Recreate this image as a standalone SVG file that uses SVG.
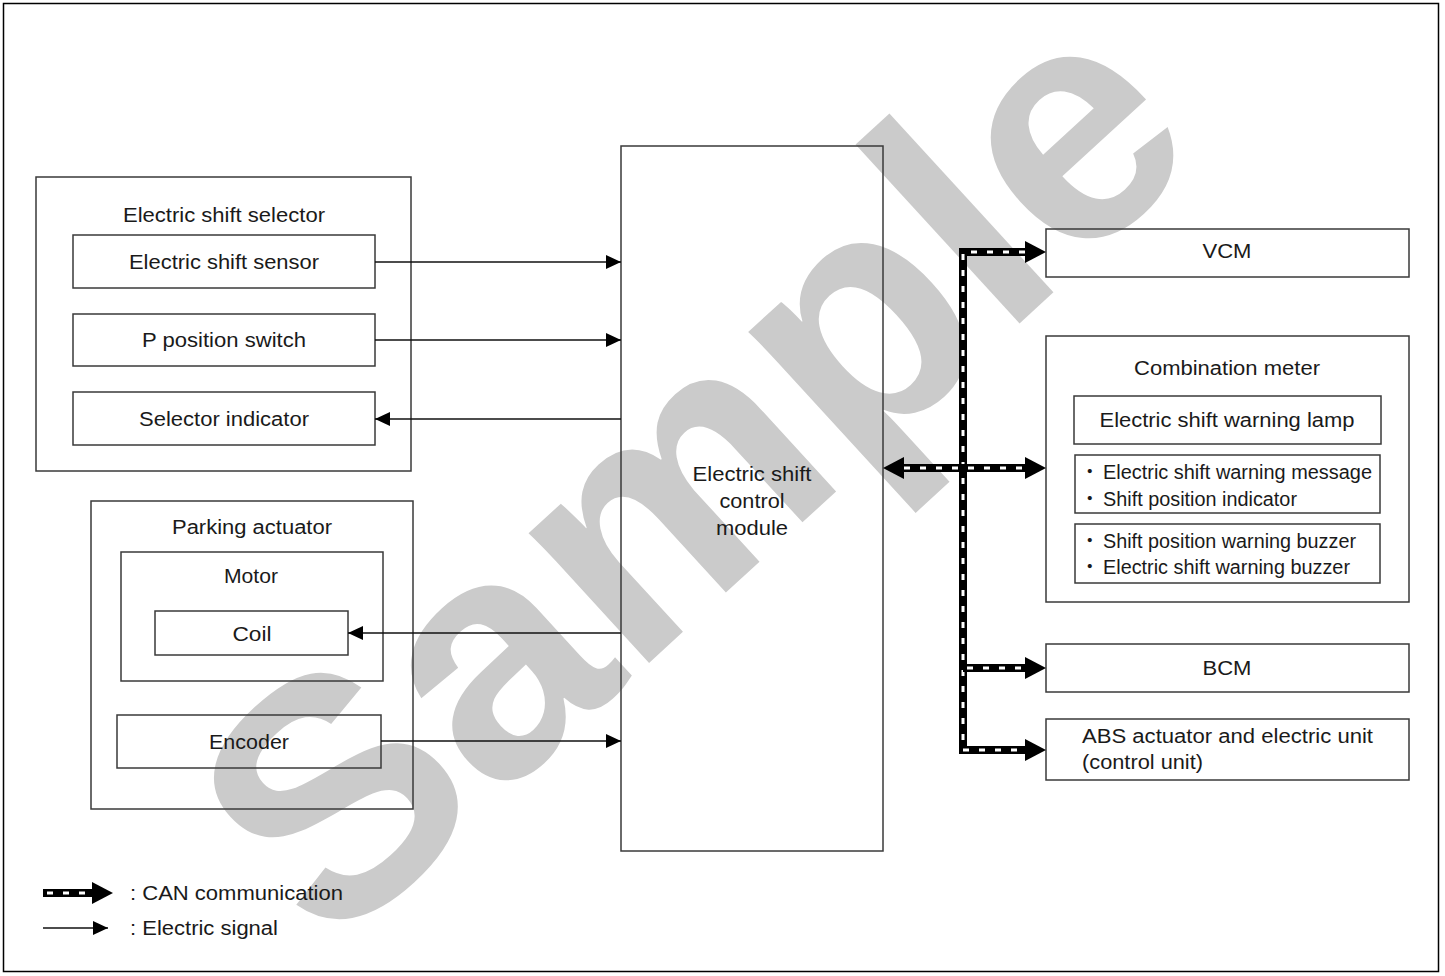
<svg xmlns="http://www.w3.org/2000/svg" width="1445" height="976" viewBox="0 0 1445 976">
<style>
.box{fill:none;stroke:#3a3a3a;stroke-width:1.5}
.t{font-family:"Liberation Sans",Arial,sans-serif;font-size:19.5px;fill:#1a1a1a}
.m{text-anchor:middle}
.sig{fill:none;stroke:#111;stroke-width:1.3}
.canb{fill:none;stroke:#000;stroke-width:8}
.canw{fill:none;stroke:#fff;stroke-width:3;stroke-dasharray:6 10}
.wm{font-family:"Liberation Sans",Arial,sans-serif;font-weight:bold;font-size:335px;fill:#cbcbcb;text-anchor:middle}
</style>
<defs>
<marker id="ah" markerUnits="userSpaceOnUse" markerWidth="15" markerHeight="14" refX="15" refY="7" orient="auto"><path d="M0,0 L15,7 L0,14 z" fill="#000"/></marker>
<marker id="can" markerUnits="userSpaceOnUse" markerWidth="22" markerHeight="22" refX="0" refY="11" orient="auto-start-reverse"><path d="M0,0 L21,11 L0,22 z" fill="#000"/></marker>
</defs>
<rect width="1445" height="976" fill="#fff"/>
<text class="wm" transform="translate(769,553) rotate(-42.5)">Sample</text>
<rect x="3.5" y="3.5" width="1435" height="968" fill="none" stroke="#000" stroke-width="1.5"/>

<g id="selector">
<rect class="box" x="36" y="177" width="375" height="294"/>
<text class="t m" x="224" y="222" textLength="202" lengthAdjust="spacingAndGlyphs">Electric shift selector</text>
</g>
<g id="sensor">
<rect class="box" x="73" y="235" width="302" height="53"/>
<text class="t m" x="224" y="269" textLength="190" lengthAdjust="spacingAndGlyphs">Electric shift sensor</text>
</g>
<g id="pswitch">
<rect class="box" x="73" y="314" width="302" height="52"/>
<text class="t m" x="224" y="347" textLength="164" lengthAdjust="spacingAndGlyphs">P position switch</text>
</g>
<g id="indicator">
<rect class="box" x="73" y="392" width="302" height="53"/>
<text class="t m" x="224" y="426" textLength="170" lengthAdjust="spacingAndGlyphs">Selector indicator</text>
</g>
<g id="actuator">
<rect class="box" x="91" y="501" width="322" height="308"/>
<text class="t m" x="252" y="534" textLength="160" lengthAdjust="spacingAndGlyphs">Parking actuator</text>
</g>
<g id="motor">
<rect class="box" x="121" y="552" width="262" height="129"/>
<text class="t m" x="251" y="583" textLength="54" lengthAdjust="spacingAndGlyphs">Motor</text>
</g>
<g id="coil">
<rect class="box" x="155" y="611" width="193" height="44"/>
<text class="t m" x="252" y="641" textLength="39" lengthAdjust="spacingAndGlyphs">Coil</text>
</g>
<g id="encoder">
<rect class="box" x="117" y="715" width="264" height="53"/>
<text class="t m" x="249" y="749" textLength="80" lengthAdjust="spacingAndGlyphs">Encoder</text>
</g>
<g id="module">
<rect class="box" x="621" y="146" width="262" height="705"/>
<text class="t m" x="752" y="481" textLength="119" lengthAdjust="spacingAndGlyphs">Electric shift</text>
<text class="t m" x="752" y="508" textLength="65" lengthAdjust="spacingAndGlyphs">control</text>
<text class="t m" x="752" y="535" textLength="72" lengthAdjust="spacingAndGlyphs">module</text>
</g>
<g id="vcm">
<rect class="box" x="1046" y="229" width="363" height="48"/>
<text class="t m" x="1227" y="258" textLength="49" lengthAdjust="spacingAndGlyphs">VCM</text>
</g>
<g id="meter">
<rect class="box" x="1046" y="336" width="363" height="266"/>
<text class="t m" x="1227" y="375" textLength="186" lengthAdjust="spacingAndGlyphs">Combination meter</text>
</g>
<g id="lamp">
<rect class="box" x="1074" y="396" width="307" height="48"/>
<text class="t m" x="1227" y="427" textLength="255" lengthAdjust="spacingAndGlyphs">Electric shift warning lamp</text>
</g>
<g id="message">
<rect class="box" x="1075" y="455" width="305" height="58"/>
<text class="t" x="1080" y="479"><tspan font-family="'Noto Sans CJK JP',sans-serif">・</tspan><tspan x="1103" textLength="269" lengthAdjust="spacingAndGlyphs">Electric shift warning message</tspan></text>
<text class="t" x="1080" y="506"><tspan font-family="'Noto Sans CJK JP',sans-serif">・</tspan><tspan x="1103" textLength="194" lengthAdjust="spacingAndGlyphs">Shift position indicator</tspan></text>
</g>
<g id="buzzer">
<rect class="box" x="1075" y="524" width="305" height="59"/>
<text class="t" x="1080" y="548"><tspan font-family="'Noto Sans CJK JP',sans-serif">・</tspan><tspan x="1103" textLength="253" lengthAdjust="spacingAndGlyphs">Shift position warning buzzer</tspan></text>
<text class="t" x="1080" y="574"><tspan font-family="'Noto Sans CJK JP',sans-serif">・</tspan><tspan x="1103" textLength="247" lengthAdjust="spacingAndGlyphs">Electric shift warning buzzer</tspan></text>
</g>
<g id="bcm">
<rect class="box" x="1046" y="644" width="363" height="48"/>
<text class="t m" x="1227" y="675" textLength="49" lengthAdjust="spacingAndGlyphs">BCM</text>
</g>
<g id="abs">
<rect class="box" x="1046" y="719" width="363" height="61"/>
<text class="t" x="1082" y="743" textLength="291" lengthAdjust="spacingAndGlyphs">ABS actuator and electric unit</text>
<text class="t" x="1082" y="769" textLength="121" lengthAdjust="spacingAndGlyphs">(control unit)</text>
</g>

<g id="connectors">
<path class="sig" d="M375,262 H621" marker-end="url(#ah)"/>
<path class="sig" d="M375,340 H621" marker-end="url(#ah)"/>
<path class="sig" d="M621,419 H375" marker-end="url(#ah)"/>
<path class="sig" d="M621,633 H348" marker-end="url(#ah)"/>
<path class="sig" d="M381,741 H621" marker-end="url(#ah)"/>
<path class="canb" d="M1025,252 H963 V750 H1025" marker-start="url(#can)" marker-end="url(#can)"/>
<path class="canw" d="M1025,252 H963 V750 H1025"/>
<path class="canb" d="M904,468 H1025" marker-start="url(#can)" marker-end="url(#can)"/>
<path class="canw" d="M904,468 H1025"/>
<path class="canb" d="M963,668 H1025" marker-end="url(#can)"/>
<path class="canw" d="M967,668 H1025"/>
</g>

<g id="legend">
<path class="canb" d="M43,893 H92" marker-end="url(#can)"/>
<path class="canw" d="M47,893 H92"/>
<text class="t" x="130" y="900" textLength="213" lengthAdjust="spacingAndGlyphs">: CAN communication</text>
<path class="sig" d="M43,928 H108" marker-end="url(#ah)"/>
<text class="t" x="130" y="935" textLength="148" lengthAdjust="spacingAndGlyphs">: Electric signal</text>
</g>
</svg>
